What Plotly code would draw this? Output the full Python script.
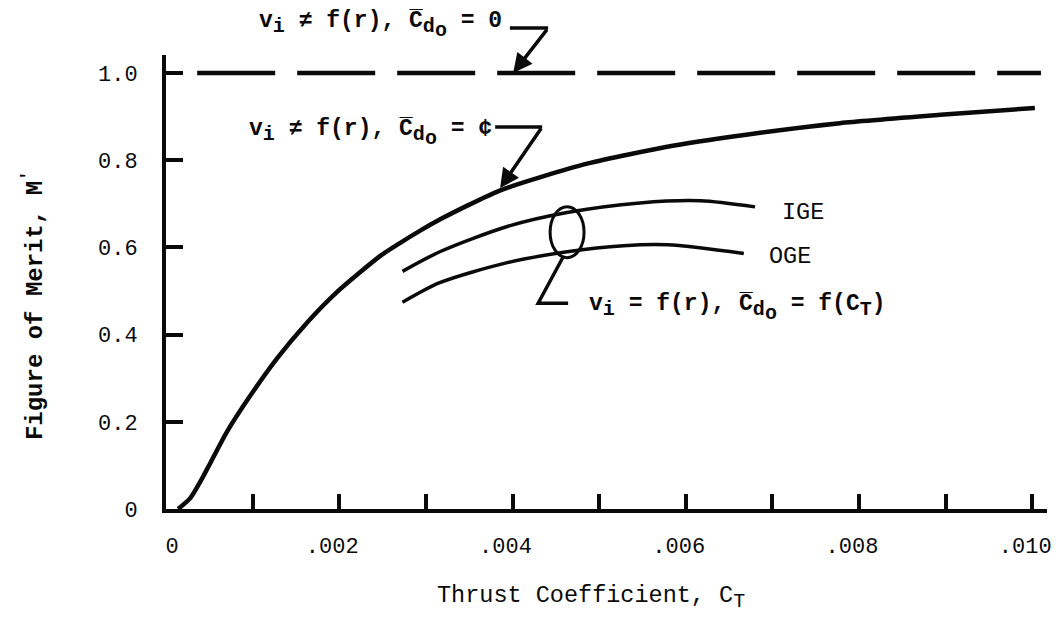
import plotly.graph_objects as go

# Figure of merit vs thrust coefficient
ct_uniform = [0.00014, 0.00028, 0.00043, 0.00051, 0.00070, 0.00097, 0.00128, 0.00163,
              0.00197, 0.00247, 0.00270, 0.00293, 0.00316, 0.00386, 0.00486, 0.00585,
              0.00686, 0.00778, 0.00894, 0.01003]
fm_uniform = [0.0, 0.025, 0.075, 0.105, 0.176, 0.259, 0.345, 0.428,
              0.497, 0.580, 0.610, 0.638, 0.664, 0.731, 0.792, 0.833,
              0.863, 0.885, 0.904, 0.920]

ct_ige = [0.00273, 0.00316, 0.00394, 0.00463, 0.00547, 0.00617, 0.00680]
fm_ige = [0.545, 0.590, 0.648, 0.680, 0.702, 0.707, 0.693]

ct_oge = [0.00273, 0.00316, 0.00394, 0.00463, 0.00528, 0.00579, 0.00667]
fm_oge = [0.474, 0.519, 0.565, 0.590, 0.604, 0.606, 0.586]

ct_ideal = [0.00036, 0.01010]
fm_ideal = [1.0, 1.0]

x_tick_vals = [0.000, 0.002, 0.004, 0.006, 0.008, 0.010]
x_tick_text = ["\u00a0\u00a00", ".002", ".004", ".006", ".008", ".010"]
x_minor_vals = [0.001, 0.003, 0.005, 0.007, 0.009]
y_tick_vals = [0.0, 0.2, 0.4, 0.6, 0.8, 1.0]
y_tick_text = ["0", "0.2", "0.4", "0.6", "0.8", "1.0"]

X_MAX = 0.01017
Y_MAX = 1.0413

FONT = "Liberation Mono"
INK = "#0a0a0a"


def px(ct):
    return ct / X_MAX


def py(fm):
    return fm / Y_MAX


def sub(s):
    return '<sub><span style="font-size:20px">' + s + '</span></sub>'


fig = go.Figure()

fig.add_trace(go.Scatter(x=ct_ideal, y=fm_ideal, mode="lines",
                         line=dict(color=INK, width=4.5, dash="78px,22px")))
fig.add_trace(go.Scatter(x=ct_uniform, y=fm_uniform, mode="lines",
                         line=dict(color=INK, width=4.5, shape="spline", smoothing=0.6)))
fig.add_trace(go.Scatter(x=ct_ige, y=fm_ige, mode="lines",
                         line=dict(color=INK, width=3.5, shape="spline", smoothing=0.8)))
fig.add_trace(go.Scatter(x=ct_oge, y=fm_oge, mode="lines",
                         line=dict(color=INK, width=3.5, shape="spline", smoothing=0.8)))

label_font = dict(family=FONT, size=23, color=INK, weight="bold")
plain_font = dict(family=FONT, size=23.5, color=INK)

# Ellipse grouping the IGE / OGE curves
ell_c = (0.00463, 0.635)
ell_r = (0.000196, 0.0585)
fig.add_shape(type="circle", xref="x", yref="y",
              x0=ell_c[0] - ell_r[0], x1=ell_c[0] + ell_r[0],
              y0=ell_c[1] - ell_r[1], y1=ell_c[1] + ell_r[1],
              line=dict(color=INK, width=3))

# Leader from the ellipse to its label
lead = [(0.004584, 0.578), (0.004296, 0.472), (0.004642, 0.472)]
fig.add_shape(type="path", xref="x", yref="y",
              path="M {} {} L {} {} L {} {}".format(*[v for p in lead for v in p]),
              line=dict(color=INK, width=3.5))

# Horizontal stubs of the two arrow leaders
stub1 = [(0.003970, 1.103), (0.004411, 1.103)]
stub2 = [(0.003800, 0.876), (0.004342, 0.876)]
for a, b in (stub1, stub2):
    fig.add_shape(type="line", xref="paper", yref="paper",
                  x0=px(a[0]), y0=py(a[1]), x1=px(b[0]), y1=py(b[1]),
                  line=dict(color=INK, width=3.5))

# Arrows
arrows = [((0.004007, 1.0), (0.004411, 1.103)),
          ((0.003857, 0.736), (0.004342, 0.876))]
for head, tail in arrows:
    fig.add_annotation(x=head[0], y=head[1], ax=tail[0], ay=tail[1],
                       xref="x", yref="y", axref="x", ayref="y",
                       text="", showarrow=True, arrowhead=2, arrowsize=1.1,
                       arrowwidth=3.5, arrowcolor=INK)

C_BAR = "C\u0305"
CD0 = C_BAR + sub("d" + sub("o"))
fig.add_annotation(x=0.001051, y=py(1.110), xref="x", yref="paper",
                   text="v" + sub("i") + " \u2260 f(r), " + CD0 + " = 0",
                   showarrow=False, xanchor="left", yanchor="middle", font=label_font)
fig.add_annotation(x=0.000935, y=0.862, xref="x", yref="y",
                   text="v" + sub("i") + " \u2260 f(r), " + CD0 + " = \u00a2",
                   showarrow=False, xanchor="left", yanchor="middle", font=label_font)
fig.add_annotation(x=0.004861, y=0.460, xref="x", yref="y",
                   text="v" + sub("i") + " = f(r), " + CD0 + " = f(C" + sub("T") + ")",
                   showarrow=False, xanchor="left", yanchor="middle", font=label_font)
fig.add_annotation(x=0.00709, y=0.681, xref="x", yref="y", text="IGE",
                   showarrow=False, xanchor="left", yanchor="middle", font=plain_font)
fig.add_annotation(x=0.00694, y=0.580, xref="x", yref="y", text="OGE",
                   showarrow=False, xanchor="left", yanchor="middle", font=plain_font)

# Axis titles
fig.add_annotation(x=0.482, y=-0.196, xref="paper", yref="paper",
                   text="Thrust Coefficient, C" + sub("T"), showarrow=False,
                   xanchor="center", yanchor="middle", font=plain_font)
fig.add_annotation(x=-0.151, y=0.449, xref="paper", yref="paper",
                   text="Figure of Merit, M<sup>'</sup>", showarrow=False, textangle=-90,
                   xanchor="center", yanchor="middle",
                   font=dict(family=FONT, size=24, color=INK, weight="bold"))

axis_common = dict(showline=True, linecolor=INK, linewidth=4, showgrid=False,
                   zeroline=False, ticks="inside", tickcolor=INK, automargin=False,
                   tickfont=dict(family=FONT, size=22, color=INK))

fig.update_layout(
    width=1056, height=624,
    margin=dict(l=166, r=9, t=55, b=115),
    paper_bgcolor="white", plot_bgcolor="white",
    showlegend=False,
    xaxis=dict(range=[0, X_MAX], tickmode="array", tickvals=x_tick_vals,
               ticktext=x_tick_text, ticklen=15, tickwidth=3.5,
               ticklabelstandoff=14, ticklabelshift=-7, ticklabeloverflow="allow",
               minor=dict(tickmode="array", tickvals=x_minor_vals, ticks="inside",
                          ticklen=15, tickwidth=3.5, tickcolor=INK, showgrid=False),
               **axis_common),
    yaxis=dict(range=[0, Y_MAX], tickmode="array", tickvals=y_tick_vals,
               ticktext=y_tick_text, ticklen=17, tickwidth=4,
               ticklabelstandoff=20, **axis_common),
)

fig.write_html("out.html")
